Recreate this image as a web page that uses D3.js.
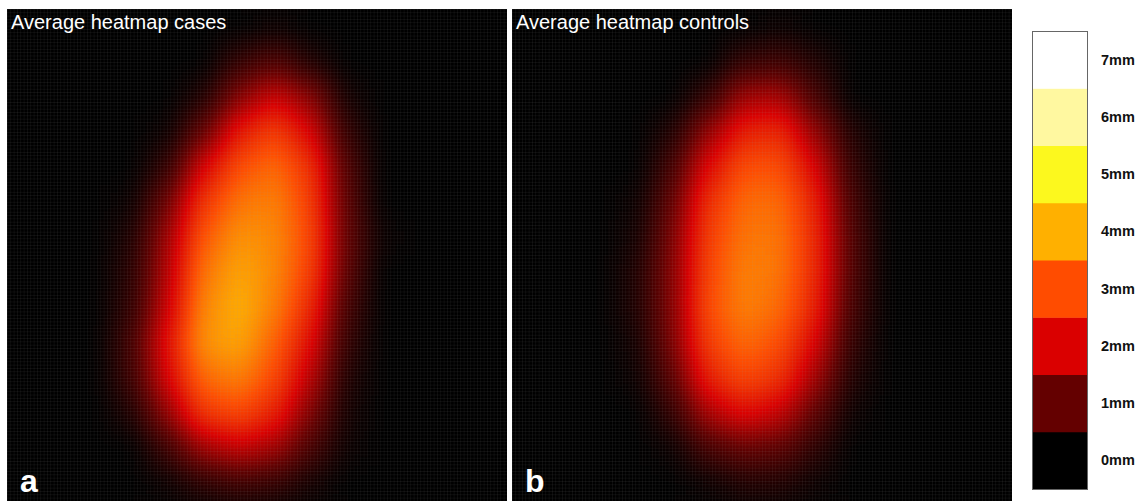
<!DOCTYPE html>
<html>
<head>
<meta charset="utf-8">
<script src="https://cdn.jsdelivr.net/npm/d3@7"></script>
<style>
  body { margin: 0; background: #fff; }
  svg { display: block; font-family: "Liberation Sans", Arial, sans-serif; }
</style>
</head>
<body>
<svg id="chart" width="1140" height="501"></svg>
<script>
// mean thickness (mm), 14 x 14 cells per panel, rows top to bottom
const casesGrid = [
  [0, 0, 0, 0, 0, 0, 0, 0.1, 0, 0, 0, 0, 0, 0],
  [0, 0, 0, 0, 0, 0, 0.5, 0.8, 0.3, 0, 0, 0, 0, 0],
  [0, 0, 0, 0, 0, 0.3, 1.3, 1.9, 1.3, 0.2, 0, 0, 0, 0],
  [0, 0, 0, 0, 0.1, 1.0, 2.3, 2.8, 2.0, 0.5, 0, 0, 0, 0],
  [0, 0, 0, 0, 0.5, 2.0, 3.0, 3.3, 2.6, 0.8, 0, 0, 0, 0],
  [0, 0, 0, 0.1, 1.1, 2.7, 3.4, 3.5, 2.8, 0.9, 0, 0, 0, 0],
  [0, 0, 0, 0.3, 1.5, 3.1, 3.7, 3.6, 2.9, 1.0, 0.1, 0, 0, 0],
  [0, 0, 0, 0.4, 1.7, 3.4, 3.9, 3.6, 2.8, 0.9, 0, 0, 0, 0],
  [0, 0, 0, 0.5, 1.9, 3.6, 4.0, 3.5, 2.5, 0.7, 0, 0, 0, 0],
  [0, 0, 0, 0.7, 2.2, 3.7, 3.9, 3.2, 2.1, 0.5, 0, 0, 0, 0],
  [0, 0, 0, 0.6, 2.0, 3.3, 3.5, 2.9, 1.7, 0.3, 0, 0, 0, 0],
  [0, 0, 0, 0.3, 1.4, 2.7, 2.9, 2.4, 1.2, 0.2, 0, 0, 0, 0],
  [0, 0, 0, 0, 0.6, 1.5, 1.8, 1.5, 0.7, 0.1, 0, 0, 0, 0],
  [0, 0, 0, 0, 0.1, 0.4, 0.6, 0.5, 0.2, 0, 0, 0, 0, 0]
];
const controlsGrid = [
  [0, 0, 0, 0, 0, 0, 0, 0.1, 0, 0, 0, 0, 0, 0],
  [0, 0, 0, 0, 0, 0, 0.5, 0.6, 0.3, 0, 0, 0, 0, 0],
  [0, 0, 0, 0, 0, 0.5, 1.5, 1.6, 0.7, 0, 0, 0, 0, 0],
  [0, 0, 0, 0, 0.3, 1.4, 2.4, 2.5, 1.4, 0.3, 0, 0, 0, 0],
  [0, 0, 0, 0, 0.7, 2.1, 3.0, 3.0, 2.0, 0.5, 0, 0, 0, 0],
  [0, 0, 0, 0.1, 1.0, 2.6, 3.3, 3.3, 2.4, 0.7, 0, 0, 0, 0],
  [0, 0, 0, 0.2, 1.2, 2.8, 3.4, 3.4, 2.5, 0.8, 0, 0, 0, 0],
  [0, 0, 0, 0.3, 1.3, 2.9, 3.5, 3.4, 2.5, 0.8, 0, 0, 0, 0],
  [0, 0, 0, 0.3, 1.3, 3.0, 3.5, 3.3, 2.4, 0.7, 0, 0, 0, 0],
  [0, 0, 0, 0.2, 1.2, 2.8, 3.3, 3.0, 2.0, 0.5, 0, 0, 0, 0],
  [0, 0, 0, 0.1, 0.9, 2.4, 2.9, 2.6, 1.5, 0.3, 0, 0, 0, 0],
  [0, 0, 0, 0, 0.5, 1.6, 2.1, 1.8, 0.9, 0.1, 0, 0, 0, 0],
  [0, 0, 0, 0, 0.1, 0.7, 1.0, 0.9, 0.4, 0, 0, 0, 0, 0],
  [0, 0, 0, 0, 0, 0.1, 0.3, 0.3, 0.1, 0, 0, 0, 0, 0]
];
const panelTitles = ["Average heatmap cases", "Average heatmap controls"];
const panelLetters = ["a", "b"];

// legend bands
const legendLevels = [0, 1, 2, 3, 4, 5, 6, 7];
const legendLabels = ["0mm", "1mm", "2mm", "3mm", "4mm", "5mm", "6mm", "7mm"];
const legendColors = ["#000000", "#640000", "#da0000", "#ff4c00", "#ffb000", "#fcf81e", "#fff8a0", "#ffffff"];

const svg = d3.select("#chart");
const defs = svg.append("defs");

const maxLevel = d3.max(legendLevels);
// cells are drawn as grey levels, smoothed, then pushed through the colour table
const grey = d3.scaleLinear().domain([0, maxLevel]).range(["#000", "#fff"]).clamp(true);
const table = ch => legendColors.map(c => (d3.rgb(c)[ch] / 255).toFixed(4)).join(" ");

const panelW = 500, panelH = 492;
const panels = [
  { x: 7, y: 9, grid: casesGrid },
  { x: 512, y: 9, grid: controlsGrid }
];

// fine lattice seen over the images
const pat = defs.append("pattern")
  .attr("id", "lattice")
  .attr("patternUnits", "userSpaceOnUse")
  .attr("width", panelW / 150)
  .attr("height", panelH / 148);
pat.append("path")
  .attr("d", `M0,0V${panelH / 148}M0,0H${panelW / 150}`)
  .attr("stroke", "#9a9a9a")
  .attr("stroke-opacity", 0.25)
  .attr("stroke-width", 0.6);

panels.forEach((p, k) => {
  const cols = d3.range(p.grid[0].length);
  const rows = d3.range(p.grid.length);
  const xs = d3.scaleBand().domain(cols).range([0, panelW]);
  const ys = d3.scaleBand().domain(rows).range([0, panelH]);

  defs.append("clipPath").attr("id", `clip${k}`)
    .append("rect").attr("width", panelW).attr("height", panelH);
  const f = defs.append("filter").attr("id", `soft${k}`)
    .attr("filterUnits", "userSpaceOnUse")
    .attr("color-interpolation-filters", "sRGB")
    .attr("x", -40).attr("y", -40)
    .attr("width", panelW + 80).attr("height", panelH + 80);
  f.append("feGaussianBlur").attr("stdDeviation", 14).attr("result", "b");
  const ct = f.append("feComponentTransfer").attr("in", "b");
  ct.append("feFuncR").attr("type", "table").attr("tableValues", table("r"));
  ct.append("feFuncG").attr("type", "table").attr("tableValues", table("g"));
  ct.append("feFuncB").attr("type", "table").attr("tableValues", table("b"));

  const g = svg.append("g")
    .attr("transform", `translate(${p.x},${p.y})`)
    .attr("clip-path", `url(#clip${k})`);

  g.append("rect").attr("width", panelW).attr("height", panelH).attr("fill", "#000");

  const cells = p.grid.flatMap((row, j) => row.map((v, i) => ({ i, j, v })));
  g.append("g")
    .attr("filter", `url(#soft${k})`)
    .selectAll("rect")
    .data(cells)
    .join("rect")
    .attr("x", d => xs(d.i))
    .attr("y", d => ys(d.j))
    .attr("width", xs.bandwidth() + 0.5)
    .attr("height", ys.bandwidth() + 0.5)
    .attr("fill", d => grey(d.v));

  g.append("rect").attr("width", panelW).attr("height", panelH).attr("fill", "url(#lattice)");

  g.append("text")
    .attr("x", 4).attr("y", 20)
    .attr("fill", "#fff")
    .attr("font-size", 20)
    .text(panelTitles[k]);

  g.append("text")
    .attr("x", 13).attr("y", 483)
    .attr("fill", "#fff")
    .attr("font-size", 32)
    .attr("font-weight", "bold")
    .text(panelLetters[k]);
});

// colour key
const legX = 1032, legW = 56;
const ly = d3.scaleBand().domain(legendLevels.slice().reverse()).range([31, 489]);
const leg = svg.append("g");
leg.selectAll("rect")
  .data(legendLevels)
  .join("rect")
  .attr("x", legX)
  .attr("y", d => ly(d))
  .attr("width", legW)
  .attr("height", ly.bandwidth() + 0.5)
  .attr("fill", (d, i) => legendColors[i]);
leg.append("rect")
  .attr("x", legX + 0.5).attr("y", 31.5)
  .attr("width", legW - 1).attr("height", 458)
  .attr("fill", "none")
  .attr("stroke", "#666");
leg.selectAll("text")
  .data(legendLevels)
  .join("text")
  .attr("x", 1101)
  .attr("y", d => ly(d) + ly.bandwidth() / 2)
  .attr("dy", "0.35em")
  .attr("font-size", 14.5)
  .attr("font-weight", "bold")
  .attr("fill", "#111")
  .text((d, i) => legendLabels[i]);
</script>
</body>
</html>
